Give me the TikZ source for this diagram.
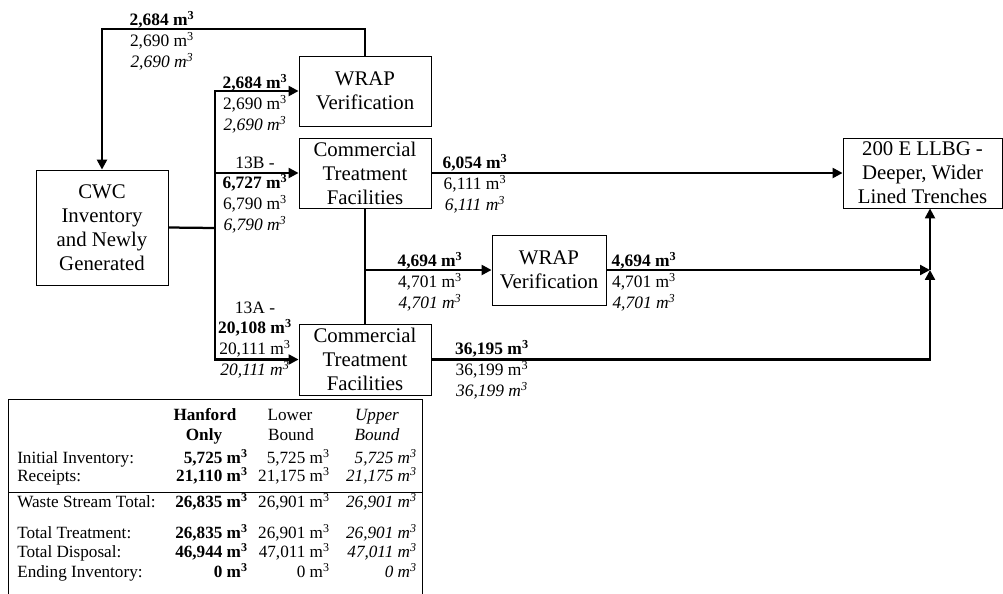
\documentclass[tikz,border=0pt]{standalone}
\usepackage{fontspec}
\setmainfont{Liberation Serif}
\usetikzlibrary{arrows.meta, positioning}

\newcommand{\cub}{m\textsuperscript{3}}
\newcommand{\vols}[3]{\textbf{#1 \cub}\\#2 \cub\\\textit{#3 \cub}}

\begin{document}
\begin{tikzpicture}[x=0.025cm, y=-0.025cm,
  box/.style={draw, line width=0.6pt, align=center, inner sep=0pt,
    font=\fontsize{14.8}{17}\selectfont},
  flow/.style={line width=1.6pt},
  into/.style={flow, -{Triangle[length=7pt, width=7pt]}},
  qty/.style={align=center, inner sep=0pt, font=\fontsize{12.4}{14.9}\selectfont},
  cell/.style={inner sep=0pt, text height=8.3pt, text depth=2.7pt,
    font=\fontsize{12.2}{14}\selectfont}]
  \useasboundingbox (0,0) rectangle (1003,593);

  % boxes
  \node[box, minimum width=3.3cm, minimum height=2.875cm] (cwc) at (102,227.5)
    {CWC\\Inventory\\and Newly\\Generated};
  \node[box, minimum width=3.3cm, minimum height=1.75cm] (wrapA) at (365,91)
    {WRAP\\Verification};
  \node[box, minimum width=3.3cm, minimum height=1.75cm] (comA) at (365,173)
    {Commercial\\Treatment\\Facilities};
  \node[box, minimum width=3.3cm, minimum height=1.775cm] (comB) at (365,359.5)
    {Commercial\\Treatment\\Facilities};
  \node[box, minimum width=2.85cm, minimum height=1.75cm] (wrapB) at (549,270)
    {WRAP\\Verification};
  \node[box, minimum width=3.975cm, minimum height=1.75cm] (llbg) at (922.5,173)
    {200 E LLBG -\\Deeper, Wider\\Lined Trenches};

  \coordinate (loop) at (365,29);
  \coordinate (bus) at (215,228);
  \coordinate (split) at (365,270);
  \coordinate (join) at (930,270);

  % flows
  \draw[into] (wrapA.north) -- (loop) -| (cwc.north);
  \draw[flow] (cwc.east) -- (bus);
  \draw[into] (bus) |- (wrapA.west);
  \draw[into] (bus) |- (comA.west);
  \draw[into] (bus) |- (comB.west);
  \draw[into] (comA.east) -- (llbg.west);
  \draw[flow] (comA.south) -- (comB.north);
  \draw[into] (split) -- (wrapB.west);
  \draw[into] (wrapB.east) -- (join);
  \draw[into] (comB.east) -| (join);
  \draw[into] (join) -- (join |- llbg.south);

  % volumes
  \node[qty] (qloop) at (162,41) {\vols{2,684}{2,690}{2,690}};
  \node[qty] (qwrapA) at (255,104) {\vols{2,684}{2,690}{2,690}};
  \node[qty] (q13b) at (255,195) {13B -\\\vols{6,727}{6,790}{6,790}};
  \node[qty] (q13a) at (255,340) {13A -\\\vols{20,108}{20,111}{20,111}};
  \node[qty] (qcomA) at (475,184) {\vols{6,054}{6,111}{6,111}};
  \node[qty] (qsplit) at (430,282) {\vols{4,694}{4,701}{4,701}};
  \node[qty] (qwrapB) at (644,282) {\vols{4,694}{4,701}{4,701}};
  \node[qty] (qcomB) at (492,370) {\vols{36,195}{36,199}{36,199}};

  % summary table
  \draw[line width=0.6pt] (8,610) -- (8,399) -- (422,399) -- (422,610);
  \draw[line width=0.6pt] (8,492) -- (422,492);
  \node[cell] (hHan) at (205,417) {\textbf{Hanford}};
  \node[cell] (hLow) at (290,417) {Lower};
  \node[cell] (hUp) at (377,417) {\textit{Upper}};
  \node[cell] (hOnly) at (204,437) {\textbf{Only}};
  \node[cell] (hBnd) at (291,437) {Bound};
  \node[cell] (hBndi) at (377,437) {\textit{Bound}};
  \foreach \y/\lab/\h/\l/\u in {460/{Initial Inventory:}/{5,725}/{5,725}/{5,725},
      478/{Receipts:}/{21,110}/{21,175}/{21,175},
      504/{Waste Stream Total:}/{26,835}/{26,901}/{26,901},
      535/{Total Treatment:}/{26,835}/{26,901}/{26,901},
      554/{Total Disposal:}/{46,944}/{47,011}/{47,011},
      574/{Ending Inventory:}/{0}/{0}/{0}} {
    \node[cell, anchor=west] (r\y) at (17,\y) {\lab};
    \node[cell, anchor=east] (r\y h) at (248,\y) {\textbf{\h\ \cub}};
    \node[cell, anchor=east] (r\y l) at (330,\y) {\l\ \cub};
    \node[cell, anchor=east] (r\y u) at (417,\y) {\textit{\u\ \cub}};
  }
\end{tikzpicture}
\end{document}
